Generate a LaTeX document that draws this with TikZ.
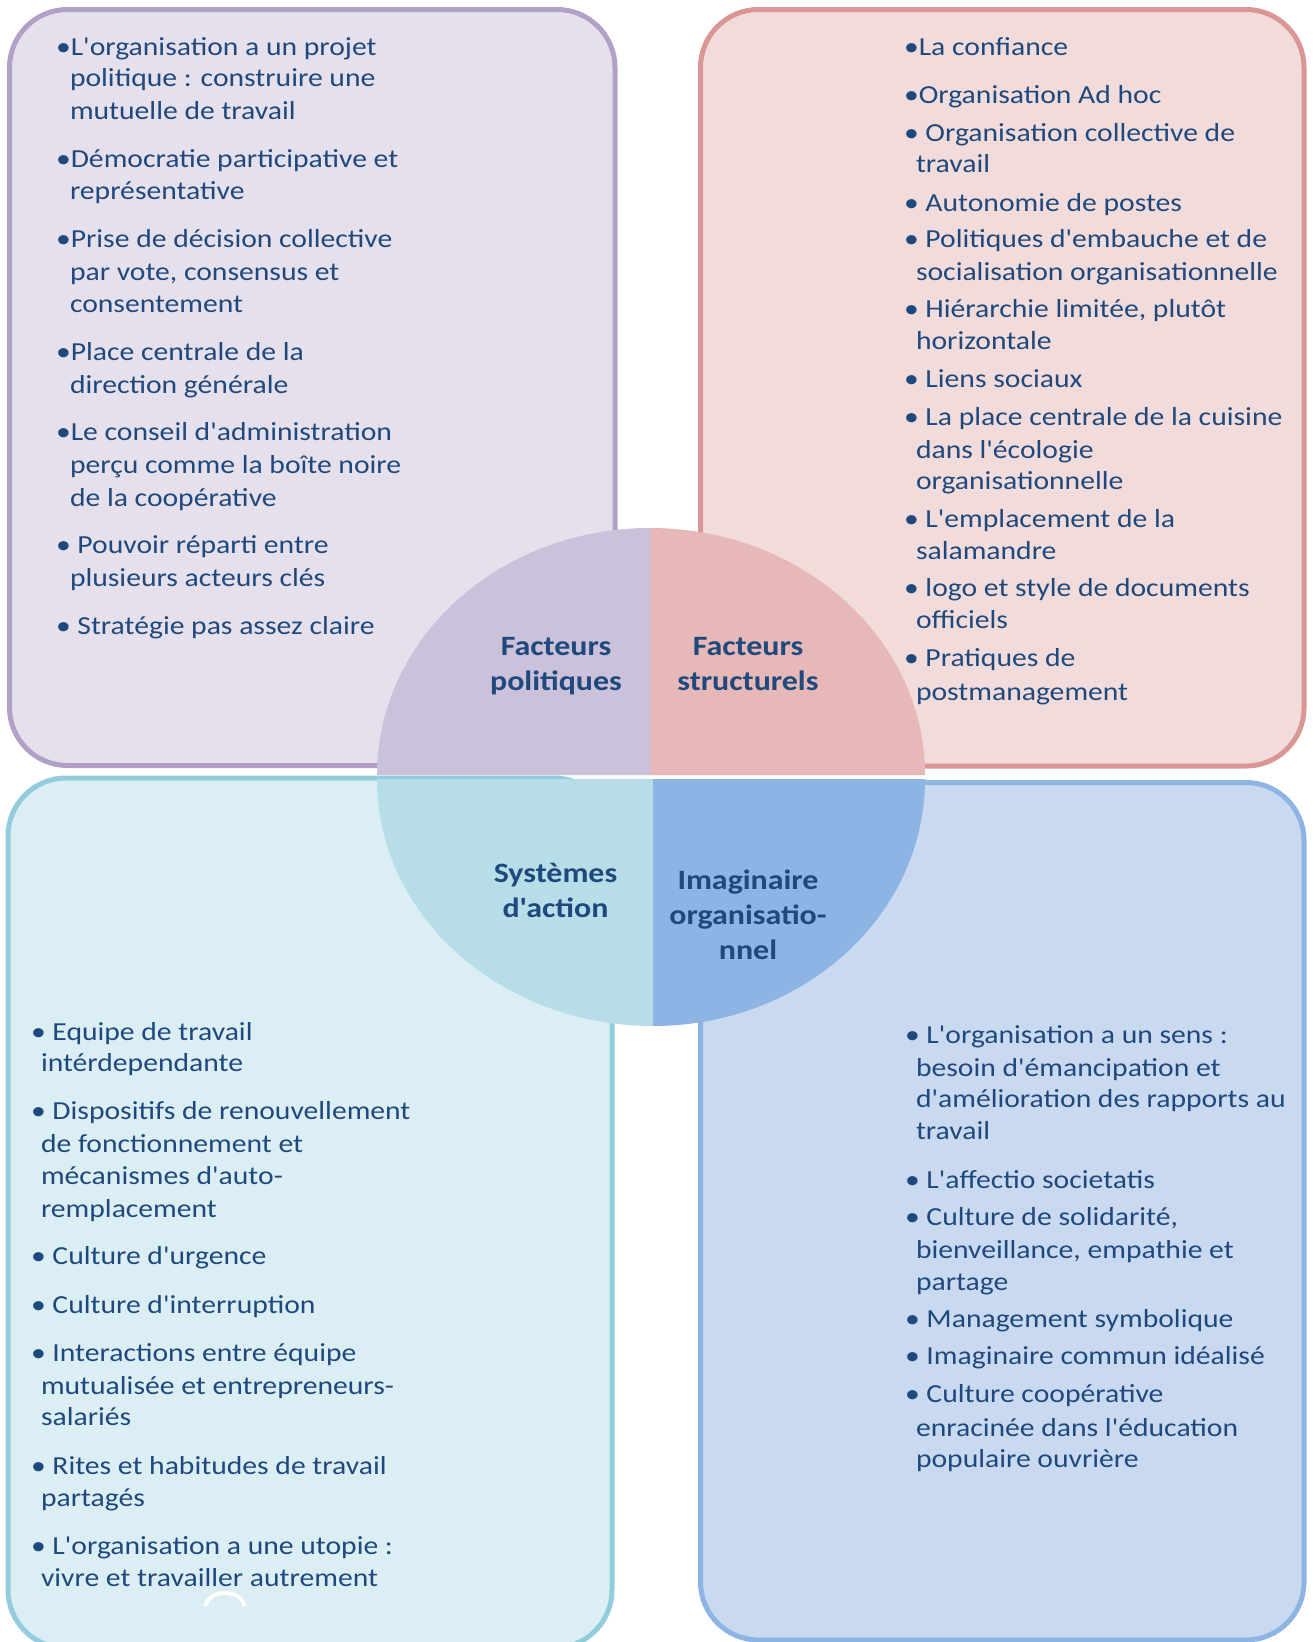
\documentclass[tikz,border=0pt]{standalone}
\usepackage{fontspec}
\setmainfont{Carlito}[FakeStretch=1.14,Ligatures=TeXOff]
\definecolor{tcol}{HTML}{1F497D}
\definecolor{tlfill}{HTML}{E6E0EC}\definecolor{tlline}{HTML}{B2A1C7}\definecolor{tlq}{HTML}{CCC1DA}
\definecolor{trfill}{HTML}{F2DCDB}\definecolor{trline}{HTML}{D99694}\definecolor{trq}{HTML}{E6B9B8}
\definecolor{blfill}{HTML}{DBEEF4}\definecolor{blline}{HTML}{93CDDD}\definecolor{blq}{HTML}{B7DEE8}
\definecolor{brfill}{HTML}{C9D9F0}\definecolor{brline}{HTML}{8EB4E3}\definecolor{brq}{HTML}{8EB4E3}
\newcommand\tline[4]{\node[txt] (#1) at (#2,#3) {#4};}
\newcommand\headline[4]{\node[lab] (#1) at (#2,#3) {#4};}
\begin{document}
\begin{tikzpicture}[x=1pt,y=-1pt,
  quadbox/.style={line width=5pt,rounded corners=58pt},
  txt/.style={inner sep=0pt,outer sep=0pt,anchor=base west,text=tcol,font=\fontsize{26}{32}\selectfont},
  lab/.style={inner sep=0pt,outer sep=0pt,anchor=base,text=tcol,font=\fontsize{28}{35}\selectfont\bfseries}]
\useasboundingbox (0,0) rectangle (1314,1642);
\clip (0,0) rectangle (1314,1642);
% outer boxes
\draw[quadbox,draw=tlline,fill=tlfill] (9.5,9.5) rectangle (615,765.5);
\draw[quadbox,draw=trline,fill=trfill] (700.5,9.5) rectangle (1304,766);
\draw[quadbox,draw=blline,fill=blfill] (8,778) rectangle (612,1648);
\draw[quadbox,draw=brline,fill=brfill] (700.5,782.5) rectangle (1304,1640);
% central quadrants
\fill[tlq] (650,775) -- (377,775) arc[start angle=180,end angle=270,x radius=273,y radius=247] -- cycle;
\fill[trq] (650,775) -- (650,528) arc[start angle=270,end angle=360,x radius=275,y radius=247] -- cycle;
\fill[blq] (653,779) -- (377,779) arc[start angle=180,end angle=90,x radius=276,y radius=247] -- cycle;
\fill[brq] (653,779) -- (925,779) arc[start angle=0,end angle=90,x radius=272,y radius=247] -- cycle;
% small white arc
\draw[white,line width=4pt] (206,1606) arc[start angle=180,end angle=360,x radius=19,y radius=13];
% headings
\headline{fp1}{556}{655}{Facteurs}
\headline{fp2}{556}{690}{politiques}
\headline{fs1}{748}{655}{Facteurs}
\headline{fs2}{748}{690}{structurels}
\headline{sa1}{555.5}{882}{Systèmes}
\headline{sa2}{555.5}{917.5}{d'action}
\headline{io1}{748}{889.5}{Imaginaire}
\headline{io2}{748}{924.5}{organisatio-}
\headline{io3}{748}{959.5}{nnel}
% top-left
\tline{tl1}{56}{55}{•L'organisation a un projet}
\tline{tl2}{70}{86.5}{politique : construire une}
\tline{tl3}{70}{119}{mutuelle de travail}
\tline{tl4}{56}{167}{•Démocratie participative et}
\tline{tl5}{70}{199.6}{représentative}
\tline{tl6}{56}{247.8}{•Prise de décision collective}
\tline{tl7}{70}{280.2}{par vote, consensus et}
\tline{tl8}{70}{312.7}{consentement}
\tline{tl9}{56}{360.8}{•Place centrale de la}
\tline{tl10}{70}{393.3}{direction générale}
\tline{tl11}{56}{440.4}{•Le conseil d'administration}
\tline{tl12}{70}{473.9}{perçu comme la boîte noire}
\tline{tl13}{70}{506.4}{de la coopérative}
\tline{tl14}{56}{553.5}{• Pouvoir réparti entre}
\tline{tl15}{70}{586}{plusieurs acteurs clés}
\tline{tl16}{56}{634.1}{• Stratégie pas assez claire}
% top-right
\tline{tr1}{904}{55.1}{•La confiance}
\tline{tr2}{904}{103.3}{•Organisation Ad hoc}
\tline{tr3}{904}{141}{• Organisation collective de}
\tline{tr4}{916}{172.4}{travail}
\tline{tr5}{904}{211.1}{• Autonomie de postes}
\tline{tr6}{904}{247.8}{• Politiques d'embauche et de}
\tline{tr7}{916}{280.2}{socialisation organisationnelle}
\tline{tr8}{904}{317.9}{• Hiérarchie limitée, plutôt}
\tline{tr9}{916}{349.3}{horizontale}
\tline{tr10}{904}{387}{• Liens sociaux}
\tline{tr11}{904}{425.8}{• La place centrale de la cuisine}
\tline{tr12}{916}{458.2}{dans l'écologie}
\tline{tr13}{916}{489.6}{organisationnelle}
\tline{tr14}{904}{527.3}{• L'emplacement de la}
\tline{tr15}{916}{559.8}{salamandre}
\tline{tr16}{904}{596.4}{• logo et style de documents}
\tline{tr17}{916}{628.9}{officiels}
\tline{tr18}{904}{666.6}{• Pratiques de}
\tline{tr19}{916}{700.1}{postmanagement}
% bottom-left
\tline{bl1}{31}{1040.3}{• Equipe de travail}
\tline{bl2}{41}{1071.8}{intérdependante}
\tline{bl3}{31}{1119.9}{• Dispositifs de renouvellement}
\tline{bl4}{41}{1152.4}{de fonctionnement et}
\tline{bl5}{41}{1184.8}{mécanismes d'auto-}
\tline{bl6}{41}{1217.3}{remplacement}
\tline{bl7}{31}{1264.4}{• Culture d'urgence}
\tline{bl8}{31}{1313.6}{• Culture d'interruption}
\tline{bl9}{31}{1361.8}{• Interactions entre équipe}
\tline{bl10}{41}{1394.2}{mutualisée et entrepreneurs-}
\tline{bl11}{41}{1425.6}{salariés}
\tline{bl12}{31}{1474.8}{• Rites et habitudes de travail}
\tline{bl13}{41}{1506.3}{partagés}
\tline{bl14}{31}{1554.4}{• L'organisation a une utopie :}
\tline{bl15}{41}{1586.9}{vivre et travailler autrement}
% bottom-right
\tline{br1}{905}{1043.5}{• L'organisation a un sens :}
\tline{br2}{916}{1076}{besoin d'émancipation et}
\tline{br3}{916}{1107.4}{d'amélioration des rapports au}
\tline{br4}{916}{1139.8}{travail}
\tline{br5}{905}{1188}{• L'affectio societatis}
\tline{br6}{905}{1225.7}{• Culture de solidarité,}
\tline{br7}{916}{1258.1}{bienveillance, empathie et}
\tline{br8}{916}{1290.6}{partage}
\tline{br9}{905}{1327.2}{• Management symbolique}
\tline{br10}{905}{1364.9}{• Imaginaire commun idéalisé}
\tline{br11}{905}{1402.6}{• Culture coopérative}
\tline{br12}{916}{1436.1}{enracinée dans l'éducation}
\tline{br13}{916}{1467.5}{populaire ouvrière}
\end{tikzpicture}
\end{document}
